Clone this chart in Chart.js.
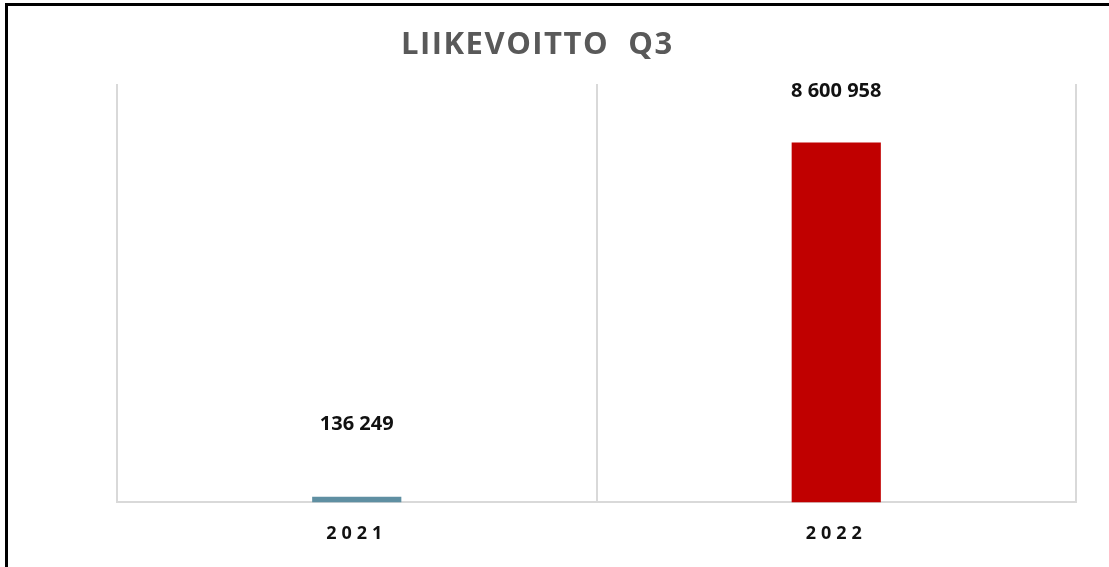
<!DOCTYPE html>
<html>
<head>
<meta charset="utf-8">
<script src="https://cdn.jsdelivr.net/npm/chart.js@4/dist/chart.umd.min.js"></script>
<style>
  html, body { margin: 0; padding: 0; background: #fff; }
  #wrap { position: relative; width: 1109px; height: 567px; overflow: hidden; }
  #frame {
    position: absolute; left: 5px; top: 3px; right: -10px; bottom: -10px;
    border-top: 3px solid #000; border-left: 3px solid #000;
    pointer-events: none;
  }
</style>
</head>
<body>
<div id="wrap">
  <canvas id="profitChart"></canvas>
  <div id="frame"></div>
</div>
<script>
// 数据
const years = ['2021', '2022'];
const operatingProfit = [136249, 8600958];
const barColors = ['#5f8fa2', '#c00000'];
const chartTitle = 'LIIKEVOITTO  Q3';

// 千位用空格分隔
const fmt = v => String(v).replace(/\B(?=(\d{3})+(?!\d))/g, ' ');

/**
 * 标题插件（左偏的字距标题）
 */
const spacedTitlePlugin = {
  id: 'spacedTitle',
  beforeDraw(chart, args, opts) {
    const ctx = chart.ctx;
    ctx.save();
    ctx.font = opts.font;
    ctx.fillStyle = opts.color;
    ctx.letterSpacing = opts.spacing;
    ctx.textAlign = 'left';
    ctx.textBaseline = 'middle';
    ctx.fillText(opts.text, opts.x, opts.y);
    ctx.restore();
    // 刻度标签也带字距
    ctx.letterSpacing = opts.tickSpacing;
  },
  beforeDatasetsDraw(chart) {
    chart.ctx.letterSpacing = '0px';
  }
};

/**
 * 柱顶数值插件
 */
const valueLabelPlugin = {
  id: 'valueLabel',
  afterDatasetsDraw(chart, args, opts) {
    const ctx = chart.ctx;
    const meta = chart.getDatasetMeta(0);
    ctx.save();
    ctx.letterSpacing = '0px';
    ctx.font = opts.font;
    ctx.fillStyle = opts.color;
    ctx.textAlign = 'center';
    ctx.textBaseline = 'middle';
    meta.data.forEach((bar, i) => {
      ctx.fillText(fmt(operatingProfit[i]), bar.x, bar.y - opts.lift[i]);
    });
    ctx.restore();
  }
};

new Chart(document.getElementById('profitChart'), {
  type: 'bar',
  data: {
    labels: years,
    datasets: [{
      data: operatingProfit,
      backgroundColor: barColors,
      borderWidth: 0,
      barPercentage: 0.186,
      categoryPercentage: 1
    }]
  },
  options: {
    responsive: true,
    maintainAspectRatio: false,
    animation: false,
    layout: { padding: { left: 117, right: 33, top: 84, bottom: 1 } },
    scales: {
      x: {
        offset: true,
        grid: { display: true, offset: true, color: '#d9d9d9', lineWidth: 2, drawTicks: false },
        border: { display: true, color: '#d9d9d9', width: 2 },
        ticks: {
          padding: 21,
          color: '#111',
          font: { family: 'Open Sans', weight: 'bold', size: 18 }
        }
      },
      y: { display: false, min: 0, max: 10000000 }
    },
    plugins: {
      legend: { display: false },
      tooltip: { enabled: false },
      spacedTitle: {
        text: chartTitle,
        x: 401,
        y: 45,
        font: 'bold 31px "Open Sans"',
        color: '#595959',
        spacing: '1.5px',
        tickSpacing: '5px'
      },
      valueLabel: {
        font: 'bold 20px "Open Sans"',
        color: '#111',
        lift: [72, 51]
      }
    }
  },
  plugins: [spacedTitlePlugin, valueLabelPlugin]
});
</script>
</body>
</html>
